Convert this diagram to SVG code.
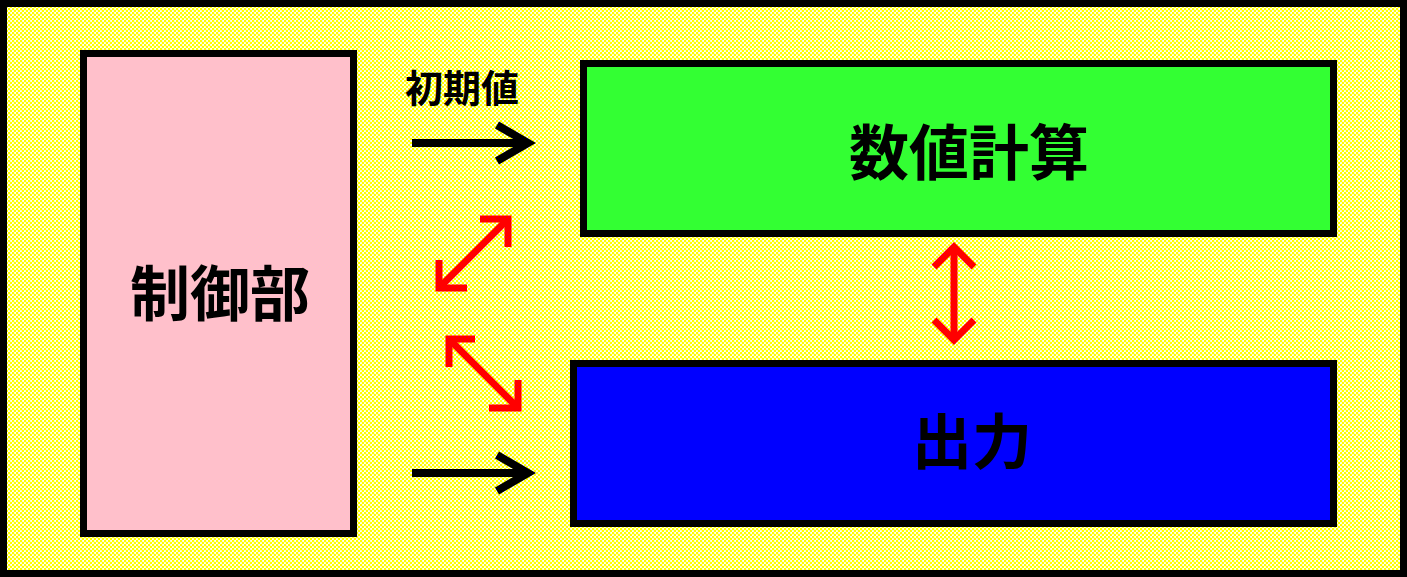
<svg xmlns="http://www.w3.org/2000/svg" width="1407" height="577" viewBox="0 0 1407 577">
  <defs>
    <pattern id="dots" x="0" y="0" width="4" height="4" patternUnits="userSpaceOnUse">
      <rect width="4" height="4" fill="#ffffff"/>
      <circle cx="1" cy="1" r="1.3" fill="#ffff00"/>
      <circle cx="3" cy="3" r="1.3" fill="#ffff00"/>
    </pattern>
  </defs>
  <style>
    .box { stroke: #000; stroke-width: 7; }
    .lbl { font-family: "Noto Sans CJK JP", "Noto Sans CJK SC", sans-serif; font-weight: bold; fill: #000; text-anchor: middle; }
    .blk { fill: none; stroke: #000; stroke-width: 8; stroke-linejoin: miter; }
    .red { fill: none; stroke: #ff0000; stroke-width: 7; stroke-linejoin: miter; }
  </style>
  <rect id="background" x="3.5" y="3.5" width="1400" height="570" fill="url(#dots)" stroke="#000" stroke-width="7"/>

  <g id="control">
    <rect class="box" x="83.5" y="53.5" width="270" height="480" fill="#ffc0cb"/>
    <text class="lbl" x="220" y="316" font-size="60">制御部</text>
  </g>

  <g id="calc">
    <rect class="box" x="583.5" y="63.5" width="750" height="170" fill="#33ff33"/>
    <text class="lbl" x="969" y="175" font-size="60">数値計算</text>
  </g>

  <g id="output">
    <rect class="box" x="573.5" y="363.5" width="760" height="160" fill="#0000ff"/>
    <text class="lbl" x="972" y="464" font-size="60">出力</text>
  </g>

  <g id="init-label">
    <text class="lbl" x="462" y="102" font-size="38">初期値</text>
  </g>

  <g id="connectors">
    <line class="blk" x1="412" y1="143" x2="527" y2="143"/>
    <polyline class="blk" points="497,125 528,143 497,161"/>
    <line class="blk" x1="412" y1="473" x2="527" y2="473"/>
    <polyline class="blk" points="497,455 528,473 497,491"/>

    <line class="red" x1="439" y1="288" x2="508" y2="219"/>
    <polyline class="red" points="480,219 508,219 508,247"/>
    <polyline class="red" points="439,260 439,288 467,288"/>

    <line class="red" x1="449" y1="339" x2="518" y2="408"/>
    <polyline class="red" points="475,339 449,339 449,367"/>
    <polyline class="red" points="518,380 518,408 489,408"/>

    <line class="red" x1="954" y1="248" x2="954" y2="338"/>
    <polyline class="red" points="934,267 954,247 974,267"/>
    <polyline class="red" points="934,320 954,340 974,320"/>
  </g>
</svg>
